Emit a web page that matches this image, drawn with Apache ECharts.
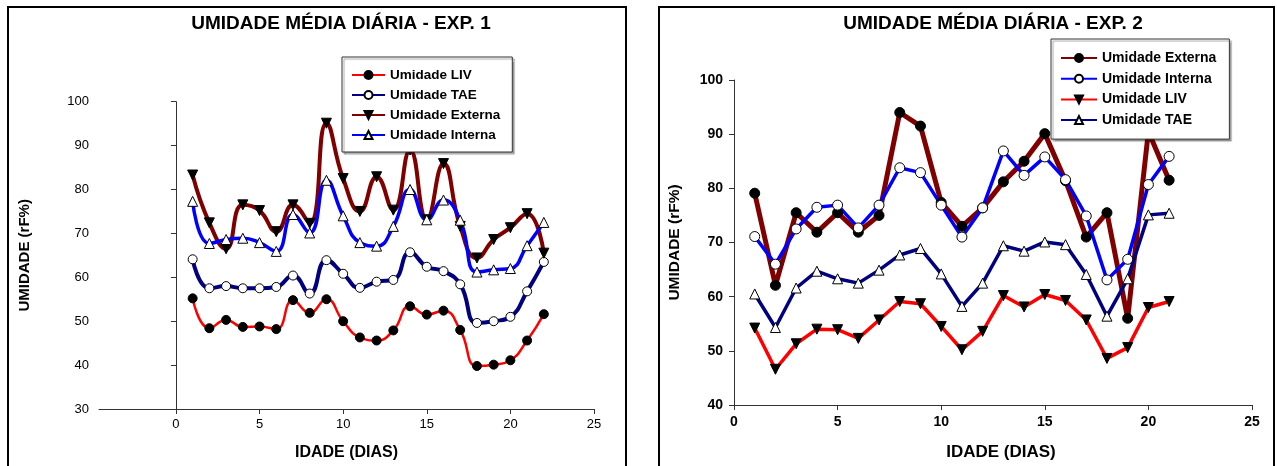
<!DOCTYPE html>
<html><head><meta charset="utf-8">
<script src="https://cdn.jsdelivr.net/npm/echarts@6/dist/echarts.min.js"></script>
<style>html,body{margin:0;padding:0;background:#fff}#c{width:1277px;height:466px}</style>
</head><body><div id="c"></div>
<script>
// ---- Data: EXP. 1 ----
const days1 = [1,2,3,4,5,6,7,8,9,10,11,12,13,14,15,16,17,18,19,20,21,22];
const liv1 = [55.2,48.4,50.3,48.7,48.8,48.2,54.8,51.9,55.0,50.0,46.3,45.6,47.9,53.4,51.5,52.4,48.0,39.8,40.1,41.1,45.6,51.6];
const tae1 = [64.1,57.5,58.0,57.5,57.5,57.8,60.4,56.3,63.9,60.8,57.6,59.0,59.4,65.7,62.4,61.4,58.4,49.6,50.0,51.0,56.8,63.5];
const ext1 = [83.3,72.4,66.5,76.5,75.2,70.4,76.5,72.3,95.1,82.5,75.0,82.9,75.3,89.0,73.1,85.9,71.6,64.4,68.6,71.3,74.5,65.5];
const int1 = [77.3,67.7,68.6,68.9,67.9,65.9,74.3,70.1,82.1,74.0,67.9,67.1,71.6,80.0,73.1,77.6,73.0,61.2,61.7,62.0,67.2,72.5];
// ---- Data: EXP. 2 ----
const days2 = [1,2,3,4,5,6,7,8,9,10,11,12,13,14,15,16,17,18,19,20,21];
const ext2 = [79.1,62.1,75.5,71.9,75.5,71.9,75.0,94.0,91.5,77.4,73.0,76.4,81.2,85.0,90.1,81.4,71.0,75.5,56.0,90.5,81.5];
const int2 = [71.1,66.0,72.5,76.5,76.9,72.7,76.9,83.8,82.9,76.9,71.0,76.4,86.9,82.4,85.8,81.6,74.9,63.1,66.9,80.7,85.9];
const liv2 = [54.2,46.6,51.3,54.0,53.9,52.3,55.7,59.1,58.7,54.5,50.2,53.6,60.2,58.1,60.4,59.3,55.7,48.6,50.6,58.0,59.1];
const tae2 = [60.5,54.3,61.6,64.7,63.3,62.5,64.9,67.7,68.9,64.2,58.2,62.5,69.4,68.4,70.1,69.6,64.1,56.4,63.3,75.1,75.4];
// ---- Texts / ticks ----
const title1 = 'UMIDADE MÉDIA DIÁRIA - EXP. 1';
const title2 = 'UMIDADE MÉDIA DIÁRIA - EXP. 2';
const xName = 'IDADE (DIAS)';
const yName = 'UMIDADE (rF%)';
const xTicks = [0,5,10,15,20,25];
const labels = {
  l1:'Umidade LIV', t1:'Umidade TAE', e1:'Umidade Externa', i1:'Umidade Interna',
  e2:'Umidade Externa', i2:'Umidade Interna', l2:'Umidade LIV', t2:'Umidade TAE'
};

const FONT = 'Liberation Sans, Arial, sans-serif';
const DOWN = 'path://M0,0L10,0L5,9Z';
const UP = 'path://M5,0L10,9L0,9Z';
const pairs = (d, v) => d.map((x, i) => [x, v[i]]);

function ser(name, idx, d, v, color, width, symbol, fill, size, smooth) {
  return {
    name, type: 'line', xAxisIndex: idx, yAxisIndex: idx,
    data: pairs(d, v), smooth: smooth, symbol, symbolSize: size,
    showAllSymbol: true,
    lineStyle: { color, width },
    itemStyle: { color: fill, borderColor: '#000', borderWidth: 1 },
    emphasis: { disabled: true }, animation: false
  };
}

const axisCommon = {
  axisLine: { show: true, lineStyle: { color: '#333', width: 1 } },
  axisTick: { show: true, length: 5, lineStyle: { color: '#333' } },
  splitLine: { show: false }
};

const chart = echarts.init(document.getElementById('c'), null, { renderer: 'canvas' });
chart.setOption({
  backgroundColor: '#fff',
  animation: false,
  textStyle: { fontFamily: FONT },
  graphic: [
    { type: 'rect', shape: { x: 8, y: 7, width: 618, height: 480 }, style: { fill: 'none', stroke: '#000', lineWidth: 2 }, silent: true },
    { type: 'rect', shape: { x: 659, y: 7, width: 615, height: 480 }, style: { fill: 'none', stroke: '#000', lineWidth: 2 }, silent: true },
    { type: 'text', x: 341, y: 24, style: { text: title1, font: 'bold 19px ' + FONT, fill: '#000', textAlign: 'center', textVerticalAlign: 'middle' }, silent: true },
    { type: 'text', x: 993, y: 24, style: { text: title2, font: 'bold 19px ' + FONT, fill: '#000', textAlign: 'center', textVerticalAlign: 'middle' }, silent: true }
  ],
  grid: [
    { left: 99, right: 1277 - 594, top: 101.7, bottom: 466 - 412.7 },
    { left: 734, right: 1277 - 1252, top: 80, bottom: 466 - 409.3 }
  ],
  xAxis: [
    Object.assign({}, axisCommon, {
      gridIndex: 0, type: 'value', min: -4.6, max: 25,
      axisTick: { show: true, length: 5, lineStyle: { color: '#333' }, customValues: xTicks },
      axisLabel: { customValues: xTicks, margin: 9, fontSize: 13, color: '#000', fontFamily: FONT },
      name: xName, nameLocation: 'middle', nameGap: 36,
      nameTextStyle: { fontSize: 16, fontWeight: 'bold', color: '#000', fontFamily: FONT }
    }),
    Object.assign({}, axisCommon, {
      gridIndex: 1, type: 'value', min: 0, max: 25, interval: 5,
      axisLabel: { margin: 10, fontSize: 14, fontWeight: 'bold', color: '#000', fontFamily: FONT },
      name: xName, nameLocation: 'middle', nameGap: 39,
      nameTextStyle: { fontSize: 17, fontWeight: 'bold', color: '#000', fontFamily: FONT, padding: [0, 0, 0, 16] }
    })
  ],
  yAxis: [
    Object.assign({}, axisCommon, {
      gridIndex: 0, type: 'value', min: 30, max: 100, interval: 10,
      axisLabel: { margin: 10, fontSize: 13, color: '#000', fontFamily: FONT },
      name: yName, nameLocation: 'middle', nameGap: 67,
      nameTextStyle: { fontSize: 15, fontWeight: 'bold', color: '#000', fontFamily: FONT }
    }),
    Object.assign({}, axisCommon, {
      gridIndex: 1, type: 'value', min: 40, max: 100, interval: 10,
      axisLabel: { margin: 11, fontSize: 14, fontWeight: 'bold', color: '#000', fontFamily: FONT },
      name: yName, nameLocation: 'middle', nameGap: 51,
      nameTextStyle: { fontSize: 15.5, fontWeight: 'bold', color: '#000', fontFamily: FONT }
    })
  ],
  legend: [
    {
      data: ['l1', 't1', 'e1', 'i1'], formatter: n => labels[n],
      left: 342, top: 57, orient: 'vertical', itemWidth: 33, itemHeight: 10, itemGap: 6,
      padding: [11, 12, 10, 9], backgroundColor: '#fff', borderColor: '#333', borderWidth: 1,
      shadowColor: 'rgba(0,0,0,0.35)', shadowOffsetX: 2, shadowOffsetY: 2, shadowBlur: 1,
      textStyle: { fontSize: 13.5, fontWeight: 'bold', color: '#000', fontFamily: FONT },
      selectedMode: false
    },
    {
      data: ['e2', 'i2', 'l2', 't2'], formatter: n => labels[n],
      left: 1051, top: 39, orient: 'vertical', itemWidth: 36, itemHeight: 10, itemGap: 6.7,
      padding: [12, 13, 12, 9], backgroundColor: '#fff', borderColor: '#333', borderWidth: 1,
      shadowColor: 'rgba(0,0,0,0.35)', shadowOffsetX: 2, shadowOffsetY: 2, shadowBlur: 1,
      textStyle: { fontSize: 14, fontWeight: 'bold', color: '#000', fontFamily: FONT },
      selectedMode: false
    }
  ],
  series: [
    ser('l1', 0, days1, liv1, '#ff0000', 2.5, 'circle', '#000', 9, 0.5),
    ser('t1', 0, days1, tae1, '#000080', 4, 'circle', '#fff', 9, 0.5),
    ser('e1', 0, days1, ext1, '#800000', 4, DOWN, '#000', 10, 0.5),
    ser('i1', 0, days1, int1, '#0000ff', 3.5, UP, '#fff', 10, 0.5),
    ser('e2', 1, days2, ext2, '#800000', 5, 'circle', '#000', 10, false),
    ser('i2', 1, days2, int2, '#0000ff', 3.5, 'circle', '#fff', 10, false),
    ser('l2', 1, days2, liv2, '#ff0000', 3.5, DOWN, '#000', 10, false),
    ser('t2', 1, days2, tae2, '#000080', 3.5, UP, '#fff', 10, false)
  ]
});
</script></body></html>
